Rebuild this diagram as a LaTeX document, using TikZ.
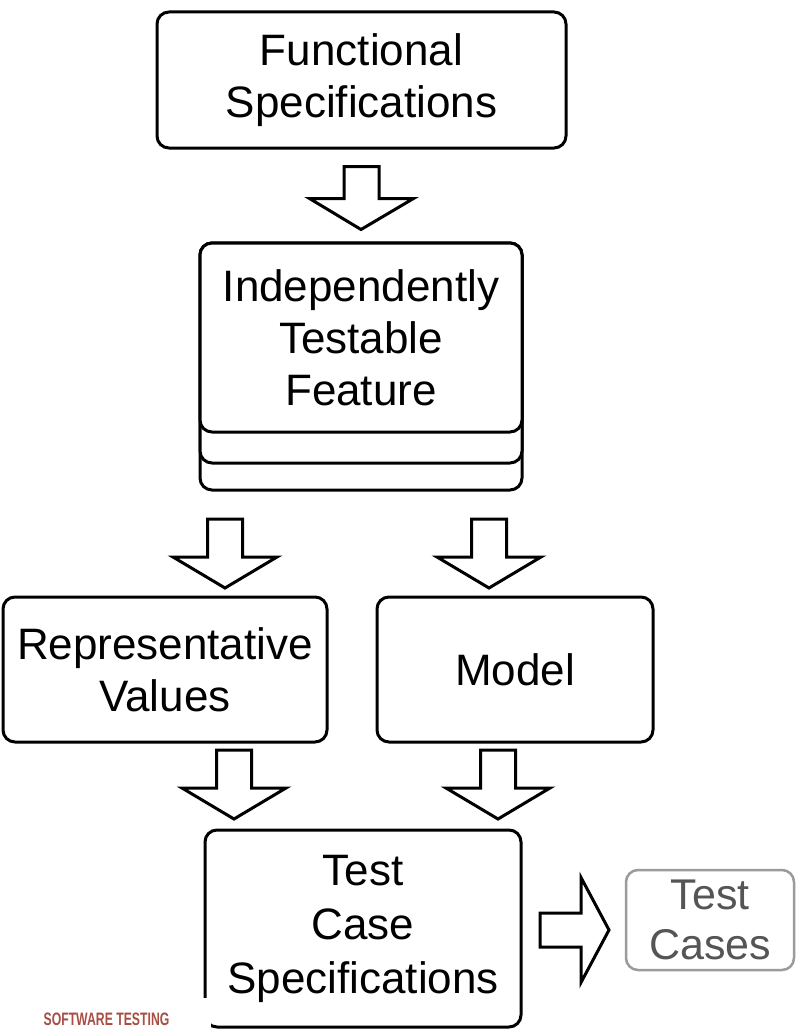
\documentclass[tikz,border=0pt]{standalone}
\usepackage{fontspec}
\usepackage{graphicx}
\setmainfont{Liberation Sans}
\usetikzlibrary{calc}
\definecolor{boxgray}{RGB}{155,155,155}
\definecolor{textgray}{RGB}{85,85,85}
\definecolor{logored}{RGB}{168,78,68}
\begin{document}
\begin{tikzpicture}[x=1pt,y=-1pt,
  box/.style={draw=black, line width=3pt, rounded corners=12pt, fill=white,
    align=center, font=\fontsize{44}{52}\selectfont, inner sep=0pt},
  graybox/.style={draw=boxgray, line width=2.5pt, rounded corners=12pt, fill=white,
    align=center, text=textgray, font=\fontsize{43}{50}\selectfont, inner sep=0pt},
  fatdown/.style={draw=black, line width=3pt, line join=miter, fill=white,
    to path={let \p1=(\tikztostart),\p2=(\tikztotarget) in
      (\x1-17.5pt,\y1) -- (\x1+17.5pt,\y1) -- (\x1+17.5pt,\y2+31pt) -- (\x1+52pt,\y2+31pt)
      -- (\x2,\y2) -- (\x1-52pt,\y2+31pt) -- (\x1-17.5pt,\y2+31pt) -- cycle}},
  fatright/.style={draw=black, line width=3pt, line join=miter, fill=white,
    to path={let \p1=(\tikztostart),\p2=(\tikztotarget) in
      (\x1,\y1+17pt) -- (\x2-28pt,\y1+17pt) -- (\x2-28pt,\y1+52.5pt)
      -- (\x2,\y2) -- (\x2-28pt,\y1-52.5pt) -- (\x2-28pt,\y1-17pt) -- (\x1,\y1-17pt) -- cycle}},
]
\useasboundingbox (0,0) rectangle (795,1030);
\fill[white] (0,0) rectangle (795,1030);

% boxes
\node[box, minimum width=409pt, minimum height=136pt] (fs) at (361.5,80) {Functional\\Specifications};

\node[box, minimum width=322pt, minimum height=247pt] (itfc) at (361,366.5) {};
\node[box, minimum width=322pt, minimum height=220pt] (itfb) at (361,353) {};
\node[box, minimum width=322pt, minimum height=189pt] (itf) at (361,337.5) {Independently\\Testable\\Feature};

\node[box, minimum width=324pt, minimum height=145pt] (rv) at (165,669.5) {Representative\\Values};
\node[box, minimum width=276pt, minimum height=145pt] (model) at (515,669.5) {Model};

\node[box, minimum width=316pt, minimum height=197pt, font=\fontsize{44}{54}\selectfont] (tcs) at (363,928.5) {Test\\Case\\Specifications};
\node[graybox, minimum width=168pt, minimum height=100pt] (tc) at (710,920) {Test\\Cases};

% arrow end points
\coordinate (a1s) at ([yshift=-17pt]fs.south);
\coordinate (a1e) at ([yshift=12pt]itf.north);
\coordinate (a2ls) at (225,519);
\coordinate (a2le) at (225,588);
\coordinate (a2rs) at (489,519);
\coordinate (a2re) at (489,588);
\coordinate (a3ls) at (234,750);
\coordinate (a3le) at (234,819);
\coordinate (a3rs) at (498,750);
\coordinate (a3re) at (498,819);
\coordinate (a4s) at (540,930);
\coordinate (a4e) at (609,930);

\draw[fatdown] (a1s) to (a1e);
\draw[fatdown] (a2ls) to (a2le);
\draw[fatdown] (a2rs) to (a2re);
\draw[fatdown] (a3ls) to (a3le);
\draw[fatdown] (a3rs) to (a3re);
\draw[fatright] (a4s) to (a4e);

% logo
\fill[white] (35,998) rectangle (211,1030);
\node[text=logored, inner sep=0pt, font=\fontsize{18}{18}\selectfont\bfseries] (logo) at (106.5,1019.5) {\scalebox{0.68}[1]{SOFTWARE TESTING}};
\end{tikzpicture}
\end{document}
